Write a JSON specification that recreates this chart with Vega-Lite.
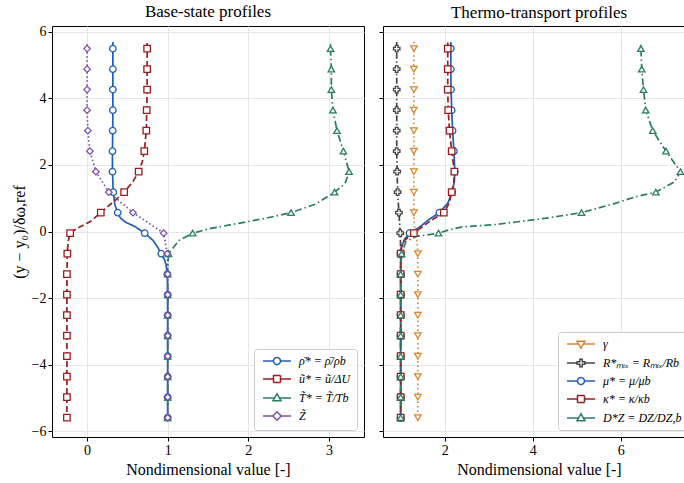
{
  "$schema": "https://vega.github.io/schema/vega-lite/v6.json",
  "background": "white",
  "padding": {"left": 10, "top": 2, "right": 0, "bottom": 0},
  "config": {
    "font": "Liberation Serif",
    "view": {"stroke": "black", "strokeWidth": 1},
    "axis": {"labelFont": "Liberation Serif", "labelFontSize": 14, "labelColor": "black", "titleFont": "Liberation Serif", "titleFontSize": 16, "titleFontWeight": "normal", "titleColor": "black", "tickColor": "black", "tickSize": 4, "domain": false, "gridColor": "#e6e6e6", "gridWidth": 1},
    "title": {"font": "Liberation Serif", "fontSize": 17, "fontWeight": "normal", "color": "black", "offset": 4},
    "legend": {"orient": "bottom-right", "offset": 7, "fillColor": "white", "strokeColor": "#cccccc", "cornerRadius": 3, "padding": 6, "labelFont": "Liberation Serif", "labelFontSize": 12, "labelFontStyle": "italic", "labelColor": "black", "rowPadding": 4, "symbolSize": 49, "symbolOffset": 11, "labelOffset": 16}
  },
  "datasets": {
    "base": [
      {"s":"rho","y":-5.7,"v":1,"m":0},{"s":"rho","y":-5.6,"v":1,"m":1},{"s":"rho","y":-4.983,"v":1,"m":1},{"s":"rho","y":-4.367,"v":1,"m":1},{"s":"rho","y":-3.75,"v":1,"m":1},{"s":"rho","y":-3.133,"v":1,"m":1},{"s":"rho","y":-2.517,"v":1,"m":1},{"s":"rho","y":-1.9,"v":1,"m":1},{"s":"rho","y":-1.283,"v":0.995,"m":1},{"s":"rho","y":-1.0,"v":0.98,"m":0},{"s":"rho","y":-0.85,"v":0.96,"m":0},{"s":"rho","y":-0.667,"v":0.92,"m":1},{"s":"rho","y":-0.45,"v":0.87,"m":0},{"s":"rho","y":-0.27,"v":0.82,"m":0},{"s":"rho","y":-0.05,"v":0.715,"m":1},{"s":"rho","y":0.14,"v":0.6,"m":0},{"s":"rho","y":0.29,"v":0.47,"m":0},{"s":"rho","y":0.42,"v":0.41,"m":0},{"s":"rho","y":0.567,"v":0.38,"m":1},{"s":"rho","y":0.8,"v":0.345,"m":0},{"s":"rho","y":1.183,"v":0.325,"m":1},{"s":"rho","y":1.8,"v":0.315,"m":1},{"s":"rho","y":2.417,"v":0.315,"m":1},{"s":"rho","y":3.033,"v":0.318,"m":1},{"s":"rho","y":3.65,"v":0.32,"m":1},{"s":"rho","y":4.267,"v":0.32,"m":1},{"s":"rho","y":4.883,"v":0.32,"m":1},{"s":"rho","y":5.5,"v":0.32,"m":1},{"s":"rho","y":5.7,"v":0.32,"m":0},
      {"s":"u","y":-5.7,"v":-0.25,"m":0},{"s":"u","y":-5.6,"v":-0.25,"m":1},{"s":"u","y":-4.983,"v":-0.25,"m":1},{"s":"u","y":-4.367,"v":-0.25,"m":1},{"s":"u","y":-3.75,"v":-0.25,"m":1},{"s":"u","y":-3.133,"v":-0.25,"m":1},{"s":"u","y":-2.517,"v":-0.25,"m":1},{"s":"u","y":-1.9,"v":-0.25,"m":1},{"s":"u","y":-1.283,"v":-0.25,"m":1},{"s":"u","y":-0.667,"v":-0.245,"m":1},{"s":"u","y":-0.3,"v":-0.235,"m":0},{"s":"u","y":-0.05,"v":-0.21,"m":1},{"s":"u","y":0.1,"v":-0.12,"m":0},{"s":"u","y":0.3,"v":0.04,"m":0},{"s":"u","y":0.567,"v":0.17,"m":1},{"s":"u","y":0.9,"v":0.33,"m":0},{"s":"u","y":1.183,"v":0.46,"m":1},{"s":"u","y":1.5,"v":0.57,"m":0},{"s":"u","y":1.8,"v":0.64,"m":1},{"s":"u","y":2.1,"v":0.685,"m":0},{"s":"u","y":2.417,"v":0.71,"m":1},{"s":"u","y":3.033,"v":0.735,"m":1},{"s":"u","y":3.65,"v":0.74,"m":1},{"s":"u","y":4.267,"v":0.745,"m":1},{"s":"u","y":4.883,"v":0.745,"m":1},{"s":"u","y":5.5,"v":0.745,"m":1},{"s":"u","y":5.7,"v":0.745,"m":0},
      {"s":"T","y":-5.7,"v":1,"m":0},{"s":"T","y":-5.6,"v":1,"m":1},{"s":"T","y":-4.983,"v":1,"m":1},{"s":"T","y":-4.367,"v":1,"m":1},{"s":"T","y":-3.75,"v":1,"m":1},{"s":"T","y":-3.133,"v":1,"m":1},{"s":"T","y":-2.517,"v":1,"m":1},{"s":"T","y":-1.9,"v":1,"m":1},{"s":"T","y":-1.283,"v":1,"m":1},{"s":"T","y":-0.667,"v":1.01,"m":1},{"s":"T","y":-0.27,"v":1.14,"m":0},{"s":"T","y":-0.05,"v":1.31,"m":1},{"s":"T","y":0.08,"v":1.51,"m":0},{"s":"T","y":0.23,"v":1.84,"m":0},{"s":"T","y":0.4,"v":2.22,"m":0},{"s":"T","y":0.567,"v":2.53,"m":1},{"s":"T","y":0.82,"v":2.83,"m":0},{"s":"T","y":1.183,"v":3.07,"m":1},{"s":"T","y":1.44,"v":3.2,"m":0},{"s":"T","y":1.8,"v":3.25,"m":1},{"s":"T","y":2.417,"v":3.18,"m":1},{"s":"T","y":3.033,"v":3.1,"m":1},{"s":"T","y":3.65,"v":3.05,"m":1},{"s":"T","y":4.267,"v":3.03,"m":1},{"s":"T","y":4.883,"v":3.03,"m":1},{"s":"T","y":5.5,"v":3.02,"m":1},{"s":"T","y":5.7,"v":3.02,"m":0},
      {"s":"Z","y":-5.7,"v":1,"m":0},{"s":"Z","y":-5.6,"v":1,"m":1},{"s":"Z","y":-4.983,"v":1,"m":1},{"s":"Z","y":-4.367,"v":1,"m":1},{"s":"Z","y":-3.75,"v":1,"m":1},{"s":"Z","y":-3.133,"v":1,"m":1},{"s":"Z","y":-2.517,"v":1,"m":1},{"s":"Z","y":-1.9,"v":1,"m":1},{"s":"Z","y":-1.283,"v":1,"m":1},{"s":"Z","y":-0.667,"v":0.995,"m":1},{"s":"Z","y":-0.05,"v":0.95,"m":1},{"s":"Z","y":0.567,"v":0.57,"m":1},{"s":"Z","y":1.183,"v":0.27,"m":1},{"s":"Z","y":1.8,"v":0.11,"m":1},{"s":"Z","y":2.417,"v":0.035,"m":1},{"s":"Z","y":3.033,"v":0.01,"m":1},{"s":"Z","y":3.65,"v":0,"m":1},{"s":"Z","y":4.267,"v":0,"m":1},{"s":"Z","y":4.883,"v":0,"m":1},{"s":"Z","y":5.5,"v":0,"m":1},{"s":"Z","y":5.7,"v":0,"m":0}
    ],
    "thermo": [
      {"s":"gamma","y":-5.7,"v":1.39,"m":0},{"s":"gamma","y":-5.6,"v":1.39,"m":1},{"s":"gamma","y":-4.983,"v":1.39,"m":1},{"s":"gamma","y":-4.367,"v":1.39,"m":1},{"s":"gamma","y":-3.75,"v":1.39,"m":1},{"s":"gamma","y":-3.133,"v":1.39,"m":1},{"s":"gamma","y":-2.517,"v":1.39,"m":1},{"s":"gamma","y":-1.9,"v":1.39,"m":1},{"s":"gamma","y":-1.283,"v":1.39,"m":1},{"s":"gamma","y":-0.667,"v":1.39,"m":1},{"s":"gamma","y":-0.3,"v":1.37,"m":0},{"s":"gamma","y":-0.05,"v":1.33,"m":1},{"s":"gamma","y":0.2,"v":1.31,"m":0},{"s":"gamma","y":0.567,"v":1.3,"m":1},{"s":"gamma","y":1.183,"v":1.3,"m":1},{"s":"gamma","y":1.8,"v":1.3,"m":1},{"s":"gamma","y":2.417,"v":1.3,"m":1},{"s":"gamma","y":3.033,"v":1.3,"m":1},{"s":"gamma","y":3.65,"v":1.3,"m":1},{"s":"gamma","y":4.267,"v":1.3,"m":1},{"s":"gamma","y":4.883,"v":1.3,"m":1},{"s":"gamma","y":5.5,"v":1.3,"m":1},{"s":"gamma","y":5.7,"v":1.3,"m":0},
      {"s":"R","y":-5.7,"v":1,"m":0},{"s":"R","y":-5.6,"v":1,"m":1},{"s":"R","y":-4.983,"v":1,"m":1},{"s":"R","y":-4.367,"v":1,"m":1},{"s":"R","y":-3.75,"v":1,"m":1},{"s":"R","y":-3.133,"v":1,"m":1},{"s":"R","y":-2.517,"v":1,"m":1},{"s":"R","y":-1.9,"v":1,"m":1},{"s":"R","y":-1.283,"v":1,"m":1},{"s":"R","y":-0.667,"v":1,"m":1},{"s":"R","y":-0.05,"v":0.99,"m":1},{"s":"R","y":0.567,"v":0.96,"m":1},{"s":"R","y":1.183,"v":0.93,"m":1},{"s":"R","y":1.8,"v":0.92,"m":1},{"s":"R","y":2.417,"v":0.91,"m":1},{"s":"R","y":3.033,"v":0.91,"m":1},{"s":"R","y":3.65,"v":0.91,"m":1},{"s":"R","y":4.267,"v":0.91,"m":1},{"s":"R","y":4.883,"v":0.91,"m":1},{"s":"R","y":5.5,"v":0.91,"m":1},{"s":"R","y":5.7,"v":0.91,"m":0},
      {"s":"mu","y":-5.7,"v":1,"m":0},{"s":"mu","y":-5.6,"v":1,"m":1},{"s":"mu","y":-4.983,"v":1,"m":1},{"s":"mu","y":-4.367,"v":1,"m":1},{"s":"mu","y":-3.75,"v":1,"m":1},{"s":"mu","y":-3.133,"v":1,"m":1},{"s":"mu","y":-2.517,"v":1,"m":1},{"s":"mu","y":-1.9,"v":1,"m":1},{"s":"mu","y":-1.283,"v":1,"m":1},{"s":"mu","y":-0.667,"v":1,"m":1},{"s":"mu","y":-0.45,"v":1.02,"m":0},{"s":"mu","y":-0.25,"v":1.08,"m":0},{"s":"mu","y":-0.05,"v":1.2,"m":1},{"s":"mu","y":0.15,"v":1.45,"m":0},{"s":"mu","y":0.34,"v":1.62,"m":0},{"s":"mu","y":0.567,"v":1.88,"m":1},{"s":"mu","y":0.85,"v":2.07,"m":0},{"s":"mu","y":1.183,"v":2.17,"m":1},{"s":"mu","y":1.5,"v":2.22,"m":0},{"s":"mu","y":1.8,"v":2.23,"m":1},{"s":"mu","y":2.417,"v":2.21,"m":1},{"s":"mu","y":3.033,"v":2.18,"m":1},{"s":"mu","y":3.65,"v":2.16,"m":1},{"s":"mu","y":4.267,"v":2.145,"m":1},{"s":"mu","y":4.883,"v":2.14,"m":1},{"s":"mu","y":5.5,"v":2.14,"m":1},{"s":"mu","y":5.7,"v":2.14,"m":0},
      {"s":"kappa","y":-5.7,"v":1,"m":0},{"s":"kappa","y":-5.6,"v":1,"m":1},{"s":"kappa","y":-4.983,"v":1,"m":1},{"s":"kappa","y":-4.367,"v":1,"m":1},{"s":"kappa","y":-3.75,"v":1,"m":1},{"s":"kappa","y":-3.133,"v":1,"m":1},{"s":"kappa","y":-2.517,"v":1,"m":1},{"s":"kappa","y":-1.9,"v":1,"m":1},{"s":"kappa","y":-1.283,"v":1,"m":1},{"s":"kappa","y":-0.667,"v":1,"m":1},{"s":"kappa","y":-0.45,"v":1.02,"m":0},{"s":"kappa","y":-0.25,"v":1.1,"m":0},{"s":"kappa","y":-0.05,"v":1.3,"m":1},{"s":"kappa","y":0.15,"v":1.5,"m":0},{"s":"kappa","y":0.34,"v":1.7,"m":0},{"s":"kappa","y":0.567,"v":1.98,"m":1},{"s":"kappa","y":0.85,"v":2.1,"m":0},{"s":"kappa","y":1.183,"v":2.16,"m":1},{"s":"kappa","y":1.5,"v":2.21,"m":0},{"s":"kappa","y":1.8,"v":2.22,"m":1},{"s":"kappa","y":2.417,"v":2.16,"m":1},{"s":"kappa","y":3.033,"v":2.11,"m":1},{"s":"kappa","y":3.65,"v":2.08,"m":1},{"s":"kappa","y":4.267,"v":2.07,"m":1},{"s":"kappa","y":4.883,"v":2.07,"m":1},{"s":"kappa","y":5.5,"v":2.07,"m":1},{"s":"kappa","y":5.7,"v":2.07,"m":0},
      {"s":"D","y":-5.7,"v":1,"m":0},{"s":"D","y":-5.6,"v":1,"m":1},{"s":"D","y":-4.983,"v":1,"m":1},{"s":"D","y":-4.367,"v":1,"m":1},{"s":"D","y":-3.75,"v":1,"m":1},{"s":"D","y":-3.133,"v":1,"m":1},{"s":"D","y":-2.517,"v":1,"m":1},{"s":"D","y":-1.9,"v":1,"m":1},{"s":"D","y":-1.283,"v":1,"m":1},{"s":"D","y":-0.667,"v":1.02,"m":1},{"s":"D","y":-0.3,"v":1.12,"m":0},{"s":"D","y":-0.15,"v":1.35,"m":0},{"s":"D","y":-0.05,"v":1.86,"m":1},{"s":"D","y":0.05,"v":2.1,"m":0},{"s":"D","y":0.14,"v":2.4,"m":0},{"s":"D","y":0.2,"v":3.1,"m":0},{"s":"D","y":0.3,"v":3.7,"m":0},{"s":"D","y":0.4,"v":4.3,"m":0},{"s":"D","y":0.567,"v":5.11,"m":1},{"s":"D","y":0.84,"v":5.86,"m":0},{"s":"D","y":1.04,"v":6.33,"m":0},{"s":"D","y":1.183,"v":6.8,"m":1},{"s":"D","y":1.49,"v":7.22,"m":0},{"s":"D","y":1.8,"v":7.36,"m":1},{"s":"D","y":2.417,"v":7.03,"m":1},{"s":"D","y":3.033,"v":6.73,"m":1},{"s":"D","y":3.65,"v":6.57,"m":1},{"s":"D","y":4.267,"v":6.52,"m":1},{"s":"D","y":4.883,"v":6.48,"m":1},{"s":"D","y":5.5,"v":6.46,"m":1},{"s":"D","y":5.7,"v":6.45,"m":0}
    ]
  },
  "spacing": 13,
  "resolve": {"scale": {"x": "independent", "y": "independent", "color": "independent", "shape": "independent", "strokeDash": "independent"}, "legend": {"color": "independent", "shape": "independent", "strokeDash": "independent"}},
  "hconcat": [
    {
      "title": "Base-state profiles",
      "width": 312,
      "height": 411,
      "data": {"name": "base"},
      "encoding": {
        "x": {"field": "v", "type": "quantitative", "scale": {"domain": [-0.435, 3.435], "nice": false, "zero": false}, "axis": {"values": [0, 1, 2, 3], "title": "Nondimensional value [-]"}},
        "y": {"field": "y", "type": "quantitative", "scale": {"domain": [-6.18, 6.18], "nice": false, "zero": false}, "axis": {"values": [-6, -4, -2, 0, 2, 4, 6], "title": "(y − y₀)/δω,ref"}},
        "color": {"field": "s", "type": "nominal", "scale": {"domain": ["rho", "u", "T", "Z"], "range": ["#1f5fb4", "#9b1c20", "#2a7e5f", "#7b4fa6"]},
          "legend": {"title": null, "labelExpr": "{'rho': 'ρ̄* = ρ̄/ρb', 'u': 'ũ* = ũ/ΔU', 'T': 'T̃* = T̃/Tb', 'Z': 'Z̃'}[datum.value]",
            "encode": {"symbols": {"update": {
              "shape": [
                {"test": "datum.value === 'rho'", "value": "M-4,0H-1M1,0H4M1,0A1,1 0 1,1 -1,0A1,1 0 1,1 1,0Z"},
                {"test": "datum.value === 'u'", "value": "M-4,0H-1M1,0H4M-1,-1H1V1H-1Z"},
                {"test": "datum.value === 'T'", "value": "M-4,0H-0.7M0.7,0H4M0,-1.2L1.15,0.8H-1.15Z"},
                {"value": "M-4,0H-1.2M1.2,0H4M0,-1.2L1.2,0L0,1.2L-1.2,0Z"}
              ],
              "fill": {"value": "white"}, "strokeWidth": {"value": 1.5}, "strokeDash": {"value": [1, 0]}}}}}}
      },
      "layer": [
        {"mark": {"type": "line", "strokeWidth": 1.7},
         "encoding": {
           "order": {"field": "y", "type": "quantitative"},
           "strokeDash": {"field": "s", "type": "nominal", "scale": {"domain": ["u", "T", "Z", "rho"], "range": [[6, 3], [7, 3, 1.5, 3], [1.5, 2.5], [1, 0]]}, "legend": null}
         }},
        {"transform": [{"filter": "datum.m == 1"}],
         "mark": {"type": "point", "filled": false, "fill": "white", "fillOpacity": 1, "opacity": 1, "size": 42, "strokeWidth": 1.3},
         "encoding": {
           "shape": {"field": "s", "type": "nominal", "scale": {"domain": ["Z", "T", "u", "rho"], "range": ["diamond", "triangle-up", "square", "circle"]}, "legend": null}
         }}
      ]
    },
    {
      "title": "Thermo-transport profiles",
      "width": 312,
      "height": 411,
      "data": {"name": "thermo"},
      "encoding": {
        "x": {"field": "v", "type": "quantitative", "scale": {"domain": [0.598, 7.69], "nice": false, "zero": false}, "axis": {"values": [2, 4, 6], "title": "Nondimensional value [-]"}},
        "y": {"field": "y", "type": "quantitative", "scale": {"domain": [-6.18, 6.18], "nice": false, "zero": false}, "axis": {"values": [-6, -4, -2, 0, 2, 4, 6], "labels": false, "title": null}},
        "color": {"field": "s", "type": "nominal", "scale": {"domain": ["gamma", "R", "mu", "kappa", "D"], "range": ["#d8862f", "#454545", "#1f5fb4", "#9b1c20", "#2a7e5f"]},
          "legend": {"title": null, "labelExpr": "{'gamma': 'γ', 'R': 'R*ₘᵢₓ = Rₘᵢₓ/Rb', 'mu': 'μ* = μ/μb', 'kappa': 'κ* = κ/κb', 'D': 'D*Z = DZ/DZ,b'}[datum.value]",
            "encode": {"symbols": {"update": {
              "shape": [
                {"test": "datum.value === 'gamma'", "value": "M-4,0H-0.7M0.7,0H4M0,1.2L1.15,-0.8H-1.15Z"},
                {"test": "datum.value === 'R'", "value": "M-4,0H-1.1M1.1,0H4M-0.35,-1.1H0.35V-0.35H1.1V0.35H0.35V1.1H-0.35V0.35H-1.1V-0.35H-0.35Z"},
                {"test": "datum.value === 'mu'", "value": "M-4,0H-1M1,0H4M1,0A1,1 0 1,1 -1,0A1,1 0 1,1 1,0Z"},
                {"test": "datum.value === 'kappa'", "value": "M-4,0H-1M1,0H4M-1,-1H1V1H-1Z"},
                {"value": "M-4,0H-0.7M0.7,0H4M0,-1.2L1.15,0.8H-1.15Z"}
              ],
              "fill": {"value": "white"}, "strokeWidth": {"value": 1.5}, "strokeDash": {"value": [1, 0]}}}}}}
      },
      "layer": [
        {"mark": {"type": "line", "strokeWidth": 1.7},
         "encoding": {
           "order": {"field": "y", "type": "quantitative"},
           "strokeDash": {"field": "s", "type": "nominal", "scale": {"domain": ["R", "mu", "kappa", "D", "gamma"], "range": [[6, 2.5, 1.5, 2.5], [1, 0], [6, 3], [7, 3, 1.5, 3], [1.5, 3]]}, "legend": null}
         }},
        {"transform": [{"filter": "datum.m == 1"}],
         "mark": {"type": "point", "filled": false, "fill": "white", "fillOpacity": 1, "opacity": 1, "size": 42, "strokeWidth": 1.3},
         "encoding": {
           "shape": {"field": "s", "type": "nominal", "scale": {"domain": ["D", "kappa", "mu", "R", "gamma"], "range": ["triangle-up", "square", "circle", "cross", "triangle-down"]}, "legend": null}
         }}
      ]
    }
  ]
}
